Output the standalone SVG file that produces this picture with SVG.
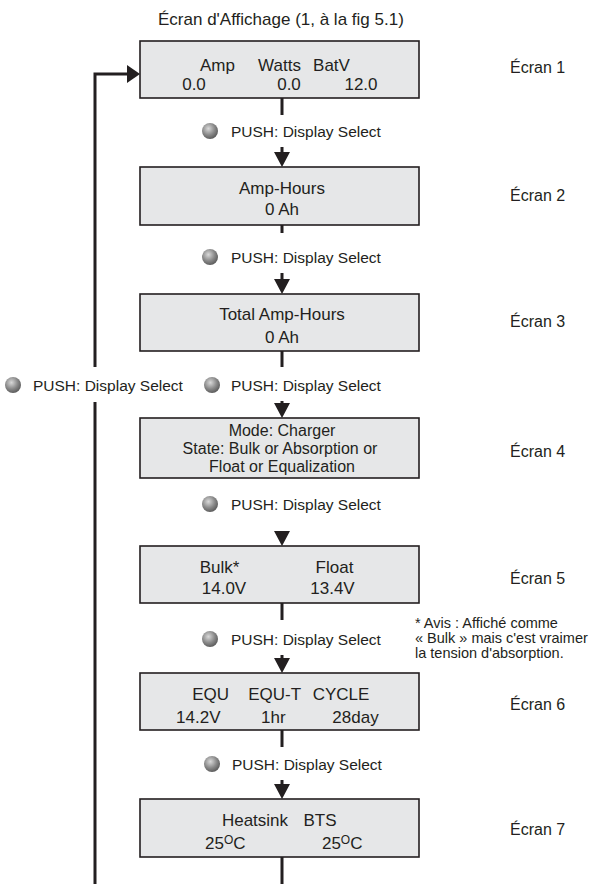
<svg xmlns="http://www.w3.org/2000/svg" width="591" height="884" viewBox="0 0 591 884">
<defs>
<radialGradient id="btn" cx="0.4" cy="0.35" r="0.65">
<stop offset="0" stop-color="#d9d9d9"/>
<stop offset="0.6" stop-color="#8a8a8a"/>
<stop offset="1" stop-color="#5e5e5e"/>
</radialGradient>
<style>
text{font-family:"Liberation Sans",Arial,sans-serif;fill:#231f20}
.box{fill:#e6e7e8;stroke:#231f20;stroke-width:1.6}
.bt{font-size:17px;text-anchor:middle}
.b4{font-size:16px;text-anchor:middle}
.lbl{font-size:15.5px}
.ecr{font-size:16px}
.ft{font-size:14.5px}
.ln{fill:none;stroke:#231f20;stroke-width:3}
.ah{fill:#231f20}
.btn{fill:url(#btn)}
</style>
</defs>
<rect width="591" height="884" fill="#ffffff"/>
<text x="158" y="25" font-size="17">Écran d'Affichage (1, à la  fig 5.1)</text>

<g id="connectors">
<path class="ln" d="M282 98V115M282 225V233M282 351V367M282 603V620M282 730V747M282 857V884"/>
<path class="ln" d="M282 147V153M282 273V280M282 401V404M282 655V659M282 780V785"/>
<path class="ln" d="M95 884V402M95 367V74H128"/>
<polygon class="ah" points="274,152 290,152 282,167"/>
<polygon class="ah" points="274,279 290,279 282,294"/>
<polygon class="ah" points="274,403 290,403 282,418"/>
<polygon class="ah" points="274,531 290,531 282,546"/>
<polygon class="ah" points="274,658 290,658 282,673"/>
<polygon class="ah" points="274,784 290,784 282,799"/>
<polygon class="ah" points="127,65 140,74 127,83"/>
</g>

<g id="labels">
<circle class="btn" cx="210" cy="131" r="8"/><text class="lbl" x="231" y="137">PUSH: Display Select</text>
<circle class="btn" cx="210" cy="257" r="8"/><text class="lbl" x="231" y="263">PUSH: Display Select</text>
<circle class="btn" cx="212" cy="385" r="8"/><text class="lbl" x="231" y="391">PUSH: Display Select</text>
<circle class="btn" cx="13" cy="385" r="8"/><text class="lbl" x="33" y="391">PUSH: Display Select</text>
<circle class="btn" cx="210" cy="504" r="8"/><text class="lbl" x="231" y="510">PUSH: Display Select</text>
<circle class="btn" cx="210" cy="639" r="8"/><text class="lbl" x="231" y="645">PUSH: Display Select</text>
<circle class="btn" cx="212" cy="764" r="8"/><text class="lbl" x="232" y="770">PUSH: Display Select</text>
</g>

<g id="screen1">
<rect class="box" x="140" y="41" width="279" height="57"/>
<text class="bt" x="217.5" y="71">Amp</text><text class="bt" x="279.5" y="71">Watts</text><text class="bt" x="331.5" y="71">BatV</text>
<text class="bt" x="194" y="90">0.0</text><text class="bt" x="289" y="90">0.0</text><text class="bt" x="361" y="90">12.0</text>
<text class="ecr" x="510" y="73">Écran 1</text>
</g>
<g id="screen2">
<rect class="box" x="140" y="167" width="279" height="58"/>
<text class="bt" x="282" y="194">Amp-Hours</text>
<text class="bt" x="282" y="215">0 Ah</text>
<text class="ecr" x="510" y="201">Écran 2</text>
</g>
<g id="screen3">
<rect class="box" x="140" y="294" width="279" height="57"/>
<text class="bt" x="282" y="320">Total Amp-Hours</text>
<text class="bt" x="282" y="342.5">0 Ah</text>
<text class="ecr" x="510" y="327">Écran 3</text>
</g>
<g id="screen4">
<rect class="box" x="140" y="418" width="279" height="60"/>
<text class="b4" x="282" y="436">Mode: Charger</text>
<text class="b4" x="280" y="454">State: Bulk or Absorption or</text>
<text class="b4" x="282" y="472">Float or Equalization</text>
<text class="ecr" x="510" y="457">Écran 4</text>
</g>
<g id="screen5">
<rect class="box" x="140" y="546" width="279" height="57"/>
<text class="bt" x="219.5" y="573">Bulk*</text><text class="bt" x="334.5" y="573">Float</text>
<text class="bt" x="224" y="594">14.0V</text><text class="bt" x="332.5" y="594">13.4V</text>
<text class="ecr" x="510" y="584">Écran 5</text>
</g>
<g id="note">
<text class="ft" x="415" y="628">* Avis : Affiché comme</text>
<text class="ft" x="415" y="643">« Bulk » mais c'est vraimer</text>
<text class="ft" x="415" y="658">la tension d'absorption.</text>
</g>
<g id="screen6">
<rect class="box" x="140" y="673" width="279" height="57"/>
<text class="bt" x="210.7" y="700">EQU</text><text class="bt" x="274.7" y="700">EQU-T</text><text class="bt" x="341" y="700">CYCLE</text>
<text class="bt" x="198.3" y="723">14.2V</text><text class="bt" x="273.3" y="723">1hr</text><text class="bt" x="355.5" y="723">28day</text>
<text class="ecr" x="510" y="710">Écran 6</text>
</g>
<g id="screen7">
<rect class="box" x="140" y="799" width="279" height="58"/>
<text class="bt" x="255" y="826">Heatsink</text><text class="bt" x="320" y="826">BTS</text>
<text class="bt" x="225.3" y="849">25<tspan font-size="12" dy="-5">O</tspan><tspan dy="5">C</tspan></text>
<text class="bt" x="342.2" y="849">25<tspan font-size="12" dy="-5">O</tspan><tspan dy="5">C</tspan></text>
<text class="ecr" x="510" y="835">Écran 7</text>
</g>
</svg>
